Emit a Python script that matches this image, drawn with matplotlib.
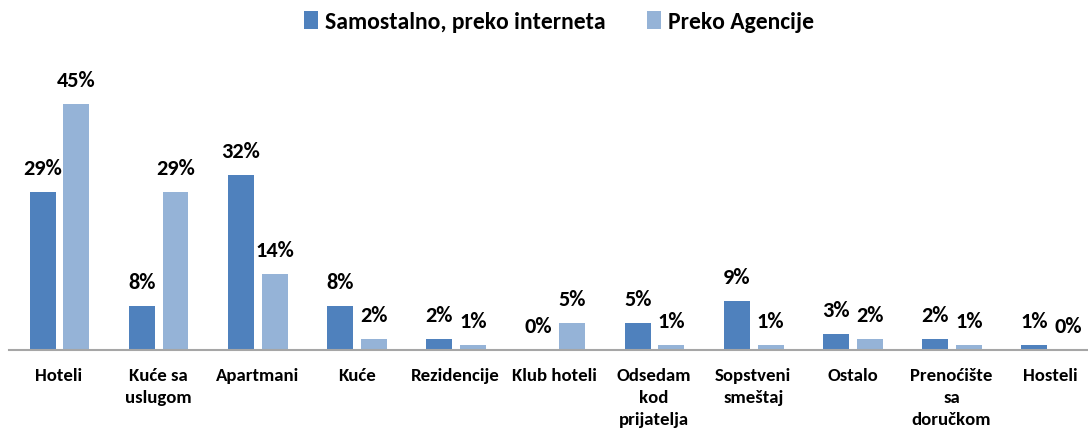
import matplotlib
matplotlib.use('Agg')
import matplotlib.pyplot as plt
import numpy as np

plt.rcParams['font.family'] = ['Carlito', 'Liberation Sans Narrow', 'Liberation Sans', 'DejaVu Sans']
plt.rcParams['font.weight'] = 'bold'

# podaci
kategorije = ['Hoteli', 'Kuće sa\nuslugom', 'Apartmani', 'Kuće', 'Rezidencije', 'Klub hoteli',
              'Odsedam\nkod\nprijatelja', 'Sopstveni\nsmeštaj', 'Ostalo', 'Prenoćište\nsa\ndoručkom',
              'Hosteli']
internet = [29, 8, 32, 8, 2, 0, 5, 9, 3, 2, 1]
agencija = [45, 29, 14, 2, 1, 5, 1, 1, 2, 1, 0]
serije = ['Samostalno, preko interneta', 'Preko Agencije']
boje = ['#4F81BD', '#95B3D7']

fig = plt.figure(figsize=(10.88, 4.30), dpi=100)
ax = fig.add_axes([0.0086, 0.186, 1.0028, 0.686])

x = np.arange(len(kategorije))
w = 0.262
b1 = ax.bar(x - 0.165, internet, w, color=boje[0], label=serije[0])
b2 = ax.bar(x + 0.175, agencija, w, color=boje[1], label=serije[1])

for bars, vals in ((b1, internet), (b2, agencija)):
    for r, v in zip(bars, vals):
        ax.annotate(f'{v}%', (r.get_x() + r.get_width() / 2, v), xytext=(0, 16.5),
                    textcoords='offset points', ha='center', va='center',
                    fontsize=16, fontweight='bold')

ax.set_xlim(-0.5, len(kategorije) - 0.5)
ax.set_ylim(0, 54)
ax.set_yticks([])
ax.set_xticks(x)
ax.set_xticklabels(kategorije, fontsize=13.5, fontweight='bold', linespacing=1.45)
ax.tick_params(axis='x', length=0, pad=13)
for s in ['top', 'right', 'left']:
    ax.spines[s].set_visible(False)
ax.spines['bottom'].set_color('#A6A6A6')
ax.spines['bottom'].set_linewidth(1.5)

fig.legend(loc='center', bbox_to_anchor=(0.514, 0.949), ncol=2, frameon=False,
           prop={'size': 17, 'weight': 'bold'}, handlelength=0.6, handleheight=0.8,
           handletextpad=0.3, columnspacing=1.75)

fig.savefig('out.png', dpi=100)
